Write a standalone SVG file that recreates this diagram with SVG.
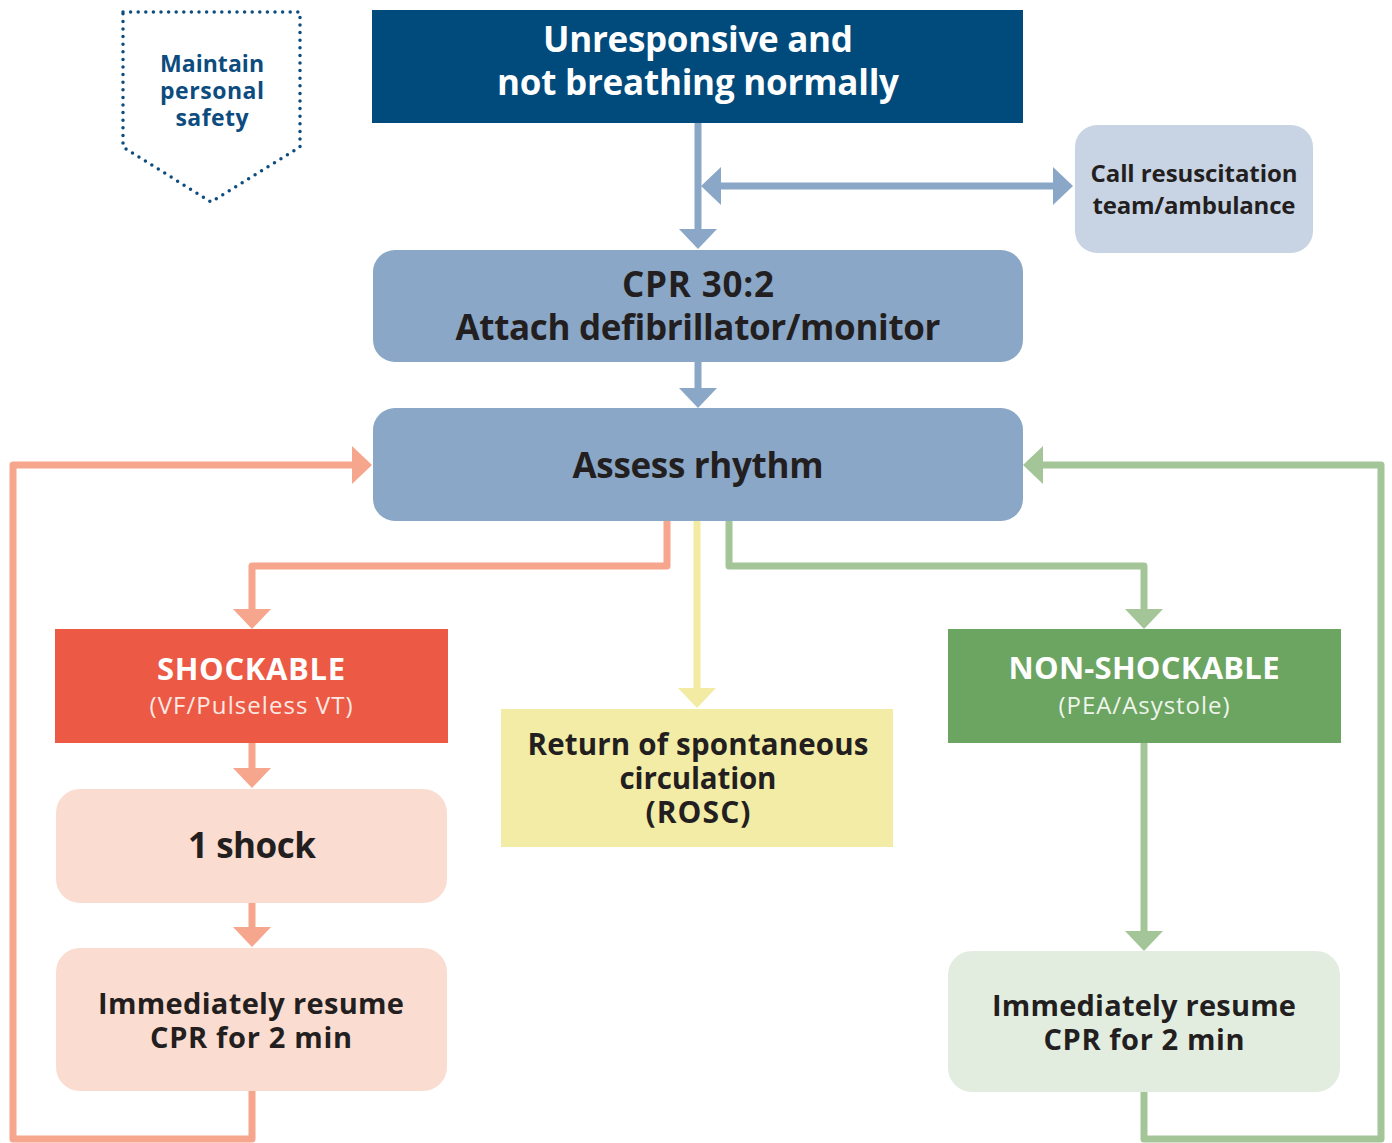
<svg xmlns="http://www.w3.org/2000/svg" width="1392" height="1143" viewBox="0 0 1392 1143">
<style>
.t{font-family:"Open Sans","Liberation Sans",sans-serif;font-weight:700;text-anchor:middle;fill:#231f20}
.w{fill:#ffffff}
.sub{font-weight:400}
.ln{fill:none;stroke-width:7;stroke-linejoin:round}
</style>
<defs>
<marker id="aB" viewBox="0 0 20 38" markerWidth="20" markerHeight="38" refX="2" refY="19" orient="auto-start-reverse" markerUnits="userSpaceOnUse"><path d="M0,0 L20,19 L0,38 Z" fill="#8aa7c7"/></marker>
<marker id="aS" viewBox="0 0 20 38" markerWidth="20" markerHeight="38" refX="2" refY="19" orient="auto" markerUnits="userSpaceOnUse"><path d="M0,0 L20,19 L0,38 Z" fill="#f6a68c"/></marker>
<marker id="aY" viewBox="0 0 20 38" markerWidth="20" markerHeight="38" refX="2" refY="19" orient="auto" markerUnits="userSpaceOnUse"><path d="M0,0 L20,19 L0,38 Z" fill="#f3eba4"/></marker>
<marker id="aG" viewBox="0 0 20 38" markerWidth="20" markerHeight="38" refX="2" refY="19" orient="auto" markerUnits="userSpaceOnUse"><path d="M0,0 L20,19 L0,38 Z" fill="#a3c598"/></marker>
</defs>
<rect width="1392" height="1143" fill="#ffffff"/>

<g id="connectors">
<path class="ln" stroke="#8aa7c7" d="M698 123 V231" marker-end="url(#aB)"/>
<path class="ln" stroke="#8aa7c7" d="M719 186 H1055" marker-start="url(#aB)" marker-end="url(#aB)"/>
<path class="ln" stroke="#8aa7c7" d="M698 362 V390" marker-end="url(#aB)"/>
<path class="ln" stroke="#f6a68c" d="M667 521 V566 H252 V611" marker-end="url(#aS)"/>
<path class="ln" stroke="#f3eba4" d="M697 521 V690" marker-end="url(#aY)"/>
<path class="ln" stroke="#a3c598" d="M729 521 V566 H1144 V611" marker-end="url(#aG)"/>
<path class="ln" stroke="#f6a68c" d="M252 743 V770" marker-end="url(#aS)"/>
<path class="ln" stroke="#f6a68c" d="M252 903 V929" marker-end="url(#aS)"/>
<path class="ln" stroke="#f6a68c" d="M252 1091 V1139 H13 V465 H354" marker-end="url(#aS)"/>
<path class="ln" stroke="#a3c598" d="M1144 743 V933" marker-end="url(#aG)"/>
<path class="ln" stroke="#a3c598" d="M1144 1092 V1139 H1381 V465 H1041" marker-end="url(#aG)"/>
</g>

<g id="safety">
<path d="M123 12 H300 V147 L211 202 L123 147 Z" fill="none" stroke="#0d4c7f" stroke-width="3.5" stroke-linecap="round" stroke-dasharray="0 7.6"/>
<text class="t" style="fill:#0d4c7f" font-size="23" x="212" y="72" textLength="104" lengthAdjust="spacing">Maintain</text>
<text class="t" style="fill:#0d4c7f" font-size="23" x="212" y="99" textLength="104" lengthAdjust="spacing">personal</text>
<text class="t" style="fill:#0d4c7f" font-size="23" x="212" y="126" textLength="73" lengthAdjust="spacing">safety</text>
</g>

<g id="unresponsive">
<rect x="372" y="10" width="651" height="113" fill="#004a7c"/>
<text class="t w" font-size="35" x="698" y="52" textLength="310" lengthAdjust="spacing">Unresponsive and</text>
<text class="t w" font-size="35" x="698" y="95" textLength="402" lengthAdjust="spacing">not breathing normally</text>
</g>

<g id="call">
<rect x="1075" y="125" width="238" height="128" rx="22" fill="#c8d4e4"/>
<text class="t" font-size="24" x="1194" y="182" textLength="207" lengthAdjust="spacing">Call resuscitation</text>
<text class="t" font-size="24" x="1194" y="214" textLength="203" lengthAdjust="spacing">team/ambulance</text>
</g>

<g id="cpr">
<rect x="373" y="250" width="650" height="112" rx="22" fill="#8aa7c7"/>
<text class="t" font-size="35" x="698" y="297" textLength="152" lengthAdjust="spacing">CPR 30:2</text>
<text class="t" font-size="35" x="698" y="340" textLength="485" lengthAdjust="spacing">Attach defibrillator/monitor</text>
</g>

<g id="assess">
<rect x="373" y="408" width="650" height="113" rx="22" fill="#8aa7c7"/>
<text class="t" font-size="35" x="698" y="478" textLength="251" lengthAdjust="spacing">Assess rhythm</text>
</g>

<g id="shockable">
<rect x="55" y="629" width="393" height="114" fill="#ec5944"/>
<text class="t w" font-size="31" x="251" y="680" textLength="188" lengthAdjust="spacing">SHOCKABLE</text>
<text class="t w sub" font-size="24" x="251" y="714" textLength="203" lengthAdjust="spacing" style="fill:#fde9e4">(VF/Pulseless VT)</text>
</g>

<g id="shock">
<rect x="56" y="789" width="391" height="114" rx="24" fill="#fbdcd0"/>
<text class="t" font-size="35" x="252" y="858" textLength="128" lengthAdjust="spacing">1 shock</text>
</g>

<g id="resume-left">
<rect x="56" y="948" width="391" height="143" rx="24" fill="#fbdcd0"/>
<text class="t" font-size="29" x="251" y="1014" textLength="306" lengthAdjust="spacing">Immediately resume</text>
<text class="t" font-size="29" x="251" y="1048" textLength="202" lengthAdjust="spacing">CPR for 2 min</text>
</g>

<g id="rosc">
<rect x="501" y="709" width="392" height="138" fill="#f3eca6"/>
<text class="t" font-size="29.5" x="698" y="755" textLength="341" lengthAdjust="spacing">Return of spontaneous</text>
<text class="t" font-size="29.5" x="698" y="789" textLength="157" lengthAdjust="spacing">circulation</text>
<text class="t" font-size="30" x="698" y="823" textLength="105" lengthAdjust="spacing">(ROSC)</text>
</g>

<g id="nonshockable">
<rect x="948" y="629" width="393" height="114" fill="#6ca461"/>
<text class="t w" font-size="31" x="1144" y="679" textLength="271" lengthAdjust="spacing">NON-SHOCKABLE</text>
<text class="t w sub" font-size="24" x="1144" y="714" textLength="171" lengthAdjust="spacing" style="fill:#eef5ec">(PEA/Asystole)</text>
</g>

<g id="resume-right">
<rect x="948" y="951" width="392" height="141" rx="24" fill="#e2ede0"/>
<text class="t" font-size="29" x="1144" y="1016" textLength="304" lengthAdjust="spacing">Immediately resume</text>
<text class="t" font-size="29" x="1144" y="1050" textLength="201" lengthAdjust="spacing">CPR for 2 min</text>
</g>
</svg>
